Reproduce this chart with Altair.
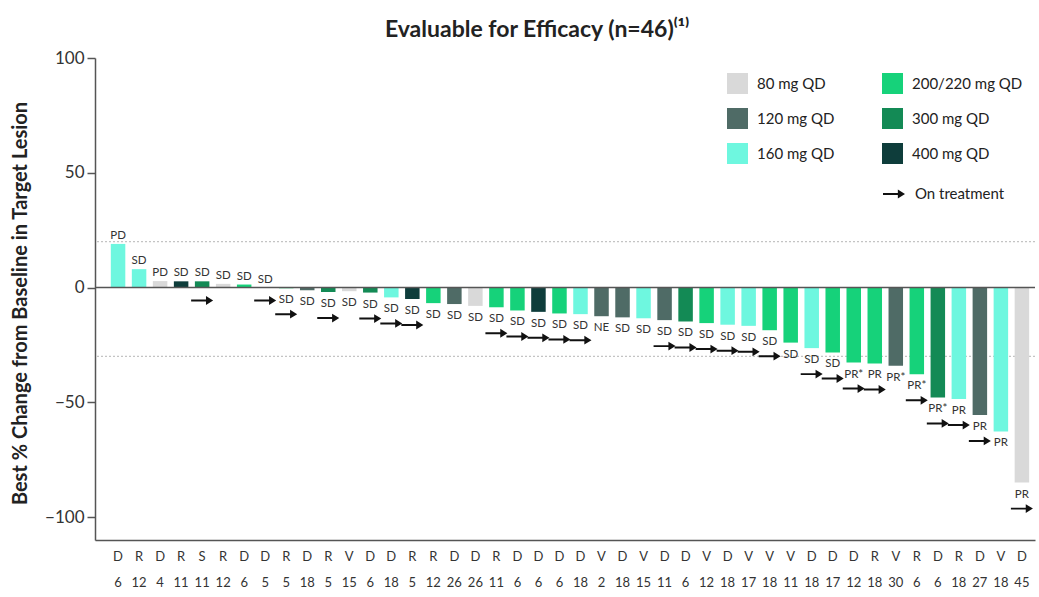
import altair as alt
import pandas as pd

# ---------------- data ----------------
drug = ["D","R","D","R","S","R","D","D","R","D","R","V","D","D","R","R","D","D","R","D","D","D",
        "D","V","D","V","D","D","V","D","V","V","V","D","D","D","R","V","R","D","R","D","V","D"]
cohort = [6,12,4,11,11,12,6,5,5,18,5,15,6,18,5,12,26,26,11,6,6,6,
          18,2,18,15,11,6,12,18,17,18,11,18,17,12,18,30,6,6,18,27,18,45]
dose = ["160 mg QD","160 mg QD","80 mg QD","400 mg QD","300 mg QD","80 mg QD","200/220 mg QD","200/220 mg QD",
        "200/220 mg QD","120 mg QD","300 mg QD","80 mg QD","300 mg QD","160 mg QD","400 mg QD","200/220 mg QD",
        "120 mg QD","80 mg QD","200/220 mg QD","200/220 mg QD","400 mg QD","200/220 mg QD","160 mg QD","120 mg QD",
        "120 mg QD","160 mg QD","120 mg QD","300 mg QD","200/220 mg QD","160 mg QD","160 mg QD","200/220 mg QD",
        "200/220 mg QD","160 mg QD","200/220 mg QD","200/220 mg QD","200/220 mg QD","120 mg QD","200/220 mg QD",
        "300 mg QD","160 mg QD","120 mg QD","160 mg QD","80 mg QD"]
change = [19, 8, 2.8, 2.7, 2.7, 1.6, 1.3, 0, -0.3, -1.2, -2, -1.6, -2.2, -4.3, -5, -6.8, -7.2, -8, -8.6, -10,
          -10.6, -11.3, -11.6, -12.5, -13, -13.4, -14.2, -14.8, -15.5, -16.2, -16.7, -18.6, -24, -26.4, -28.3,
          -32.7, -33.1, -34.1, -37.8, -47.9, -48.6, -55.5, -62.7, -85]
response = ["PD","SD","PD","SD","SD","SD","SD","SD","SD","SD","SD","SD","SD","SD","SD","SD","SD","SD","SD","SD",
            "SD","SD","SD","NE","SD","SD","SD","SD","SD","SD","SD","SD","SD","SD","SD","PR*","PR","PR*","PR*",
            "PR*","PR","PR","PR","PR"]
on_treatment = [4, 7, 8, 10, 12, 13, 14, 18, 19, 20, 21, 22, 26, 27, 28, 29, 30, 31, 33, 34, 35, 36, 38, 39,
                40, 41, 43]

dose_order = ["80 mg QD", "120 mg QD", "160 mg QD", "200/220 mg QD", "300 mg QD", "400 mg QD"]
dose_colors = ["#D9D9D9", "#4F6B66", "#6EF7DF", "#16D27A", "#138A55", "#0E3D3B"]
ref_lines = [20, -30]
y_ticks = [-100, -50, 0, 50, 100]

FONT = "Lato"
ARROW = "M-1,-0.09 L0.35,-0.09 L0.35,-0.4 L1,0 L0.35,0.4 L0.35,0.09 L-1,0.09 Z"

df = pd.DataFrame({
    "key": [f"{i:02d}|{d}|{c}" for i, (d, c) in enumerate(zip(drug, cohort))],
    "dose": dose,
    "change": change,
    "response": response,
})
df["base"] = df["change"].clip(upper=0)
df["treat"] = ["On treatment" if i in on_treatment else "none" for i in range(len(df))]

x_enc = alt.X(
    "key:N", sort=None,
    scale=alt.Scale(paddingInner=0.31, paddingOuter=0.515, align=0.73),
    axis=alt.Axis(
        title=None, labelAngle=0, ticks=False,
        labelExpr="[split(datum.label,'|')[1], split(datum.label,'|')[2]]",
        labelLineHeight=26, labelFontSize=13, labelPadding=10, labelColor="#333333",
        labelFont=FONT, domainColor="#555555", domainWidth=1.5, labelBaseline="top",
    ),
)

base = alt.Chart(df)

bars = base.mark_bar().encode(
    x=x_enc,
    y=alt.Y(
        "change:Q",
        scale=alt.Scale(domain=[-110, 100], nice=False, zero=False),
        axis=alt.Axis(
            values=y_ticks, grid=False, tickSize=8, tickColor="#555555", tickWidth=1.5,
            domainColor="#555555", domainWidth=1.5, labelFontSize=17, labelColor="#333333",
            labelFont=FONT, labelPadding=3,
            title="Best % Change from Baseline in Target Lesion", titleFont=FONT, titleFontSize=20,
            titleFontWeight="bold", titleColor="#222222", titleAngle=-90, titleX=-75, titleY=245,
            titleBaseline="middle", titleAlign="center",
        ),
    ),
    color=alt.Color(
        "dose:N", title=None,
        scale=alt.Scale(domain=dose_order, range=dose_colors),
        legend=alt.Legend(
            orient="none", legendX=632, legendY=15, columns=2, symbolType="square",
            symbolSize=441, symbolStrokeWidth=0, labelFontSize=15, labelFont=FONT,
            labelColor="#222222", rowPadding=14, columnPadding=47, padding=0, labelOffset=9,
        ),
    ),
)

refs = alt.Chart(pd.DataFrame({"ref": ref_lines})).mark_rule(
    color="#C4C4C4", strokeDash=[2, 2], strokeWidth=1.2
).encode(y="ref:Q")

zero = alt.Chart(pd.DataFrame({"z": [0]})).mark_rule(
    color="#555555", strokeWidth=1.5
).encode(y="z:Q")

lab_pos = base.transform_filter("datum.change >= 0").mark_text(
    font=FONT, fontSize=11.5, color="#333333", baseline="middle", dy=-8
).encode(x=alt.X("key:N", sort=None), y="change:Q", text="response:N")

lab_neg = base.transform_filter("datum.change < 0").mark_text(
    font=FONT, fontSize=11.5, color="#333333", baseline="middle", dy=12
).encode(x=alt.X("key:N", sort=None), y="change:Q", text="response:N")

shape_enc = alt.Shape(
    "treat:N", title=None,
    scale=alt.Scale(domain=["On treatment"], range=[ARROW]),
    legend=alt.Legend(
        orient="none", legendX=788, legendY=125, symbolSize=484, symbolFillColor="#111111",
        symbolStrokeWidth=0, labelFontSize=15, labelFont=FONT, labelColor="#222222",
        labelOffset=10, padding=0,
    ),
)

arr_pos = base.transform_filter("datum.treat == 'On treatment' && datum.change >= 0").mark_point(
    filled=True, size=484, color="#111111", opacity=1, yOffset=13, strokeWidth=0
).encode(x=alt.X("key:N", sort=None), y="base:Q", shape=shape_enc)

arr_neg = base.transform_filter("datum.treat == 'On treatment' && datum.change < 0").mark_point(
    filled=True, size=484, color="#111111", opacity=1, yOffset=26, strokeWidth=0
).encode(x=alt.X("key:N", sort=None), y="base:Q", shape=shape_enc)

chart = alt.layer(refs, bars, zero, lab_pos, lab_neg, arr_pos, arr_neg).properties(
    width=940, height=482,
    autosize=alt.AutoSizeParams(type="none"),
    padding={"left": 95, "top": 58, "right": 4, "bottom": 57},
    title=alt.TitleParams(
        "Evaluable for Efficacy (n=46)⁽¹⁾", font=FONT, fontSize=23, fontWeight="bold",
        color="#222222", anchor="middle", dx=-28, offset=7,
    ),
).configure_view(strokeWidth=0)

chart.save("out.html", embed_options={"renderer": "svg", "actions": False})
